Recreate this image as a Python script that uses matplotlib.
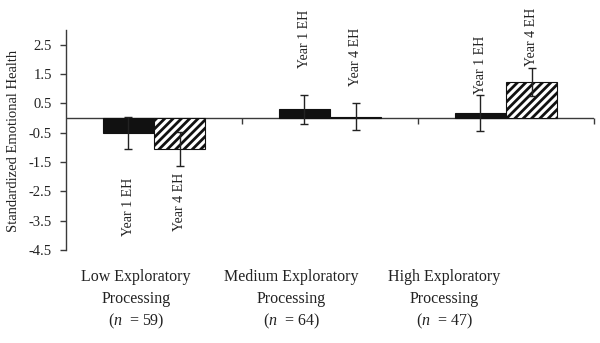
import numpy as np
import matplotlib
matplotlib.use("Agg")
import matplotlib.pyplot as plt

# -----------------------
# data
# -----------------------
CATEGORIES = ["Low Exploratory\nProcessing", "Medium Exploratory\nProcessing", "High Exploratory\nProcessing"]
GROUP_N = [59, 64, 47]
SERIES = ["Year 1 EH", "Year 4 EH"]
YEAR1_MEAN = [-0.50, 0.30, 0.16]
YEAR1_ERR = [0.54, 0.50, 0.61]
YEAR4_MEAN = [-1.05, 0.04, 1.23]
YEAR4_ERR = [0.57, 0.46, 0.47]
YTICKS = [2.5, 1.5, 0.5, -0.5, -1.5, -2.5, -3.5, -4.5]

# where the rotated series labels sit (data units), one per bar
LABEL_Y1 = [-2.02, 1.71, 0.83]
LABEL_Y4 = [-1.86, 1.10, 1.78]

plt.rcParams["font.family"] = ["Liberation Serif", "DejaVu Serif"]
plt.rcParams["mathtext.fontset"] = "custom"
plt.rcParams["mathtext.rm"] = "Liberation Serif"
plt.rcParams["mathtext.it"] = "Liberation Serif:italic"
plt.rcParams["axes.unicode_minus"] = False
plt.rcParams["hatch.linewidth"] = 2.0

W, H = 600, 343
fig = plt.figure(figsize=(W / 100, H / 100), dpi=100)
ax = fig.add_axes([66 / W, 1 - 250 / H, 528 / W, 220 / H])

x = np.arange(len(CATEGORIES))
bw = 0.29
line_col = "#3a3a3a"

ax.bar(x - bw / 2, YEAR1_MEAN, bw, color="#111111", edgecolor="#111111", linewidth=0.8, zorder=2)
ax.bar(x + bw / 2, YEAR4_MEAN, bw, color="white", edgecolor="#111111", hatch="////", linewidth=0.8, zorder=2)
ax.errorbar(x - bw / 2, YEAR1_MEAN, yerr=YEAR1_ERR, fmt="none", ecolor="#222222",
            elinewidth=1.0, capsize=3, capthick=1.0, zorder=3)
ax.errorbar(x + bw / 2, YEAR4_MEAN, yerr=YEAR4_ERR, fmt="none", ecolor="#222222",
            elinewidth=1.0, capsize=3, capthick=1.0, zorder=3)

# rotated series labels
for i in range(len(x)):
    for xpos, ly, name in [(x[i] - bw / 2, LABEL_Y1[i], SERIES[0]), (x[i] + bw / 2, LABEL_Y4[i], SERIES[1])]:
        va = "top" if ly < 0 else "bottom"
        ax.text(xpos, ly, name, rotation=90, ha="center", va=va, fontsize=10, color="#222222")

# zero line with downward ticks at the group boundaries
ax.axhline(0, color=line_col, linewidth=1.0, zorder=1)
ax.vlines(x + 0.5, -0.2, 0, color=line_col, linewidth=1.0, clip_on=False)

ax.set_xlim(-0.5, 2.5)
ax.set_ylim(-4.5, 3.0)
ax.set_yticks(YTICKS)
ax.set_yticklabels([f"{v:.1f}" for v in YTICKS])
ax.set_xticks([])
for s in ["top", "right", "bottom"]:
    ax.spines[s].set_visible(False)
ax.spines["left"].set_color(line_col)
ax.spines["left"].set_linewidth(1.0)
ax.tick_params(axis="y", direction="out", length=4, width=1.0, color=line_col,
               labelsize=10.5, pad=6, labelcolor="#222222")

fig.text(14 / W, 1 - 141 / H, "Standardized Emotional Health", rotation=90,
         ha="center", va="center", fontsize=10.5, color="#222222")

# category labels under the axis
label_x = [136, 291, 444]
for i, cat in enumerate(CATEGORIES):
    fig.text(label_x[i] / W, 1 - 288 / H, cat, ha="center", va="center",
             fontsize=11.5, linespacing=1.45, color="#222222")
    fig.text(label_x[i] / W, 1 - 321 / H, f"($n$  = {GROUP_N[i]})", ha="center", va="center",
             fontsize=11.5, color="#222222")

fig.savefig("out.png", dpi=100, facecolor="white")
